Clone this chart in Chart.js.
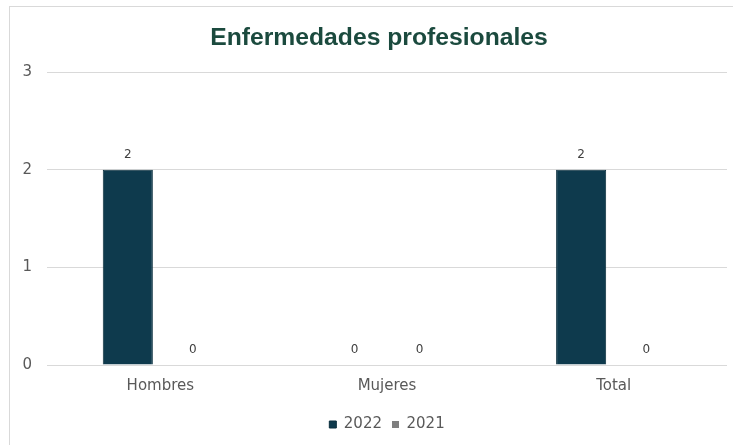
<!DOCTYPE html>
<html>
<head>
<meta charset="utf-8">
<script src="https://cdn.jsdelivr.net/npm/chart.js@4.4.0/dist/chart.umd.min.js"></script>
<style>
    html, body { margin: 0; padding: 0; background: #fff; }
    #frame {
        position: absolute; left: 9px; top: 6px;
        width: 724px; height: 439px;
        border-left: 1px solid #d9d9d9;
        border-top: 1px solid #d9d9d9;
    }
    #wrap { position: absolute; left: 0; top: 0; width: 733px; height: 445px; }
</style>
</head>
<body>
<div id="frame"></div>
<div id="wrap"><canvas id="myBarChart"></canvas></div>
<script>
const categories = ['Hombres', 'Mujeres', 'Total'];
const values2022 = [2, 0, 2];
const values2021 = [0, 0, 0];
const yTicks = [0, 1, 2, 3];
const chartTitle = 'Enfermedades profesionales';

const axisFont = '"DejaVu Sans", Verdana, sans-serif';

// titulo dibujado a mano (un poco a la derecha del centro, como en el original)
const titlePlugin = {
    id: 'titlePlugin',
    afterDraw(chart) {
        const ctx = chart.ctx;
        ctx.save();
        ctx.font = 'bold 24.7px "Liberation Sans", Arial, sans-serif';
        ctx.fillStyle = '#1b4a3e';
        ctx.textAlign = 'center';
        ctx.textBaseline = 'alphabetic';
        ctx.fillText(chartTitle, 379, 45);
        ctx.restore();
    }
};

// etiquetas de valor encima de cada barra
const valueLabels = {
    id: 'valueLabels',
    afterDatasetsDraw(chart) {
        const ctx = chart.ctx;
        ctx.save();
        ctx.font = '12px ' + axisFont;
        ctx.fillStyle = '#404040';
        ctx.textAlign = 'center';
        ctx.textBaseline = 'middle';
        chart.data.datasets.forEach((ds, i) => {
            chart.getDatasetMeta(i).data.forEach((bar, j) => {
                ctx.fillText(String(ds.data[j]), bar.x, bar.y - 15);
            });
        });
        ctx.restore();
    }
};

const data = {
    labels: categories,
    datasets: [{
        label: '2022',
        data: values2022,
        backgroundColor: '#0e3a4d',
        borderColor: '#0b2f3e',
        borderWidth: 1
    }, {
        label: '2021',
        data: values2021,
        backgroundColor: '#7f7f7f'
    }]
};

const config = {
    type: 'bar',
    data: data,
    options: {
        responsive: true,
        maintainAspectRatio: false,
        animation: false,
        categoryPercentage: 0.574,
        barPercentage: 0.77,
        layout: {
            padding: { left: 0, right: 6, top: 72, bottom: 3 }
        },
        scales: {
            x: {
                afterFit: (scale) => { scale.height += 8; },
                grid: { display: false },
                border: { display: false },
                ticks: {
                    color: '#595959',
                    padding: 4,
                    font: { size: 15, family: axisFont }
                }
            },
            y: {
                min: 0,
                max: 3,
                afterFit: (scale) => { scale.width = 47; },
                afterBuildTicks: (scale) => { scale.ticks = yTicks.map(v => ({ value: v })); },
                grid: { color: '#d9d9d9', drawTicks: false, lineWidth: 1 },
                border: { display: false },
                ticks: {
                    color: '#595959',
                    padding: 15,
                    font: { size: 15, family: axisFont }
                }
            }
        },
        plugins: {
            legend: {
                position: 'bottom',
                fullSize: false,
                labels: {
                    color: '#595959',
                    boxWidth: 7,
                    boxHeight: 7,
                    padding: 10,
                    font: { size: 15, family: axisFont }
                }
            },
            title: { display: false },
            tooltip: { enabled: false }
        }
    },
    plugins: [valueLabels, titlePlugin]
};

const ctx = document.getElementById('myBarChart').getContext('2d');
const myBarChart = new Chart(ctx, config);
</script>
</body>
</html>
